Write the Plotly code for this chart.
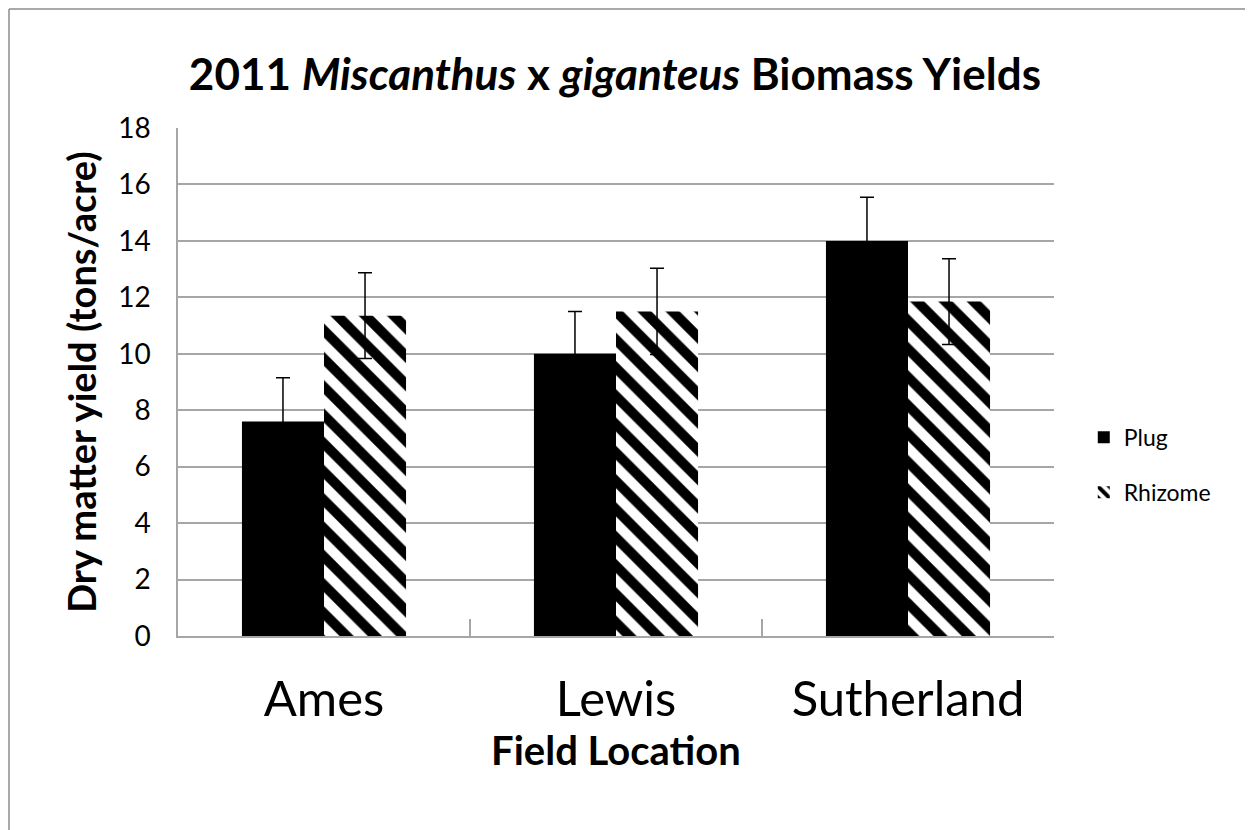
import plotly.graph_objects as go

locations = ["Ames", "Lewis", "Sutherland"]
plug = [7.6, 10.0, 14.0]
rhizome = [11.35, 11.5, 11.85]
plug_err = [1.55, 1.5, 1.55]
rhizome_err = [1.52, 1.53, 1.52]
y_ticks = [0, 2, 4, 6, 8, 10, 12, 14, 16, 18]

FONT = "Lato, Open Sans, sans-serif"
GRID = "#a6a6a6"

fig = go.Figure()
fig.add_trace(go.Bar(
    name="Plug", x=locations, y=plug, legendgroup="a",
    marker=dict(color="black", line=dict(width=0)),
    error_y=dict(type="data", array=plug_err, color="black", thickness=1.5, width=7),
))
fig.add_trace(go.Bar(
    name="Rhizome", x=locations, y=rhizome, legendgroup="b",
    marker=dict(color="white", line=dict(width=0),
                pattern=dict(shape="\\", fgcolor="black", bgcolor="white", fgopacity=1,
                             size=20, solidity=0.5, fillmode="replace")),
    error_y=dict(type="data", array=rhizome_err, color="black", thickness=1.5, width=7),
))

fig.update_layout(
    width=1245, height=822,
    paper_bgcolor="white", plot_bgcolor="white",
    margin=dict(l=170, r=199, t=120, b=194),
    barmode="group", bargap=0.438, bargroupgap=0,
    font=dict(family=FONT, color="black"),
    title=dict(text="<b>2011 <i>Miscanthus</i> x <i>giganteus</i> Biomass Yields</b>",
               x=0.4875, xanchor="center", y=0.919, yanchor="middle",
               font=dict(size=44, family=FONT)),
    legend=dict(x=1.034, y=0.337, xanchor="left", yanchor="middle",
                font=dict(size=23), traceorder="grouped", tracegroupgap=22,
                bgcolor="rgba(0,0,0,0)"),
    showlegend=True,
    shapes=[
        dict(type="line", xref="paper", yref="paper", x0=-169 / 876, x1=1.3, y0=627 / 508, y1=627 / 508,
             line=dict(color="#8c8c8c", width=1.5)),
        dict(type="line", xref="paper", yref="paper", x0=-169 / 876, x1=-169 / 876, y0=627 / 508, y1=-0.5,
             line=dict(color="#8c8c8c", width=1.5)),
    ],
)

fig.update_yaxes(
    range=[0, 18], tickvals=y_ticks, showgrid=True, gridcolor=GRID, gridwidth=1.5,
    showline=True, linecolor=GRID, linewidth=1.5, ticks="", ticklabelstandoff=20,
    tickfont=dict(size=28), zeroline=False,
    title=dict(text="<b>Dry matter yield (tons/acre)</b>", font=dict(size=38), standoff=10),
)
fig.update_xaxes(
    showline=True, linecolor=GRID, linewidth=1.5, ticks="inside", tickson="boundaries",
    ticklen=17, tickcolor=GRID, tickwidth=1.5, showgrid=False,
    tickfont=dict(size=49), ticklabelstandoff=19,
    title=dict(text="<b>Field Location</b>", font=dict(size=40), standoff=10),
)

fig.write_html("out.html")
